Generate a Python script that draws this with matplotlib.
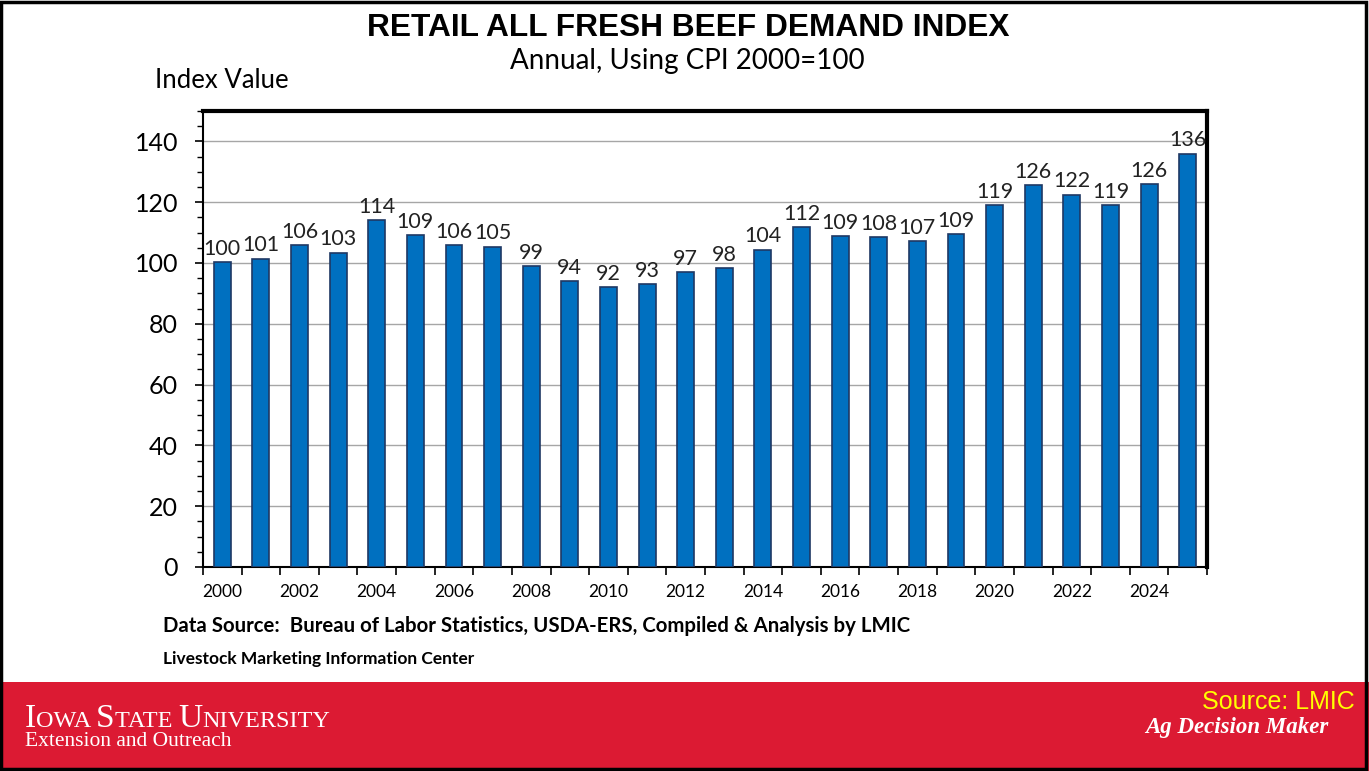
import matplotlib.pyplot as plt
from matplotlib.patches import Rectangle
from matplotlib.ticker import MultipleLocator

# Retail all fresh beef demand index, annual, CPI 2000=100
years = list(range(2000, 2026))
index_values = [100.2, 101.4, 105.8, 103.4, 114.0, 109.1, 105.8, 105.4, 98.9, 94.0,
                92.0, 93.0, 96.9, 98.3, 104.4, 111.7, 108.8, 108.4, 107.1, 109.4,
                119.0, 125.5, 122.4, 119.0, 125.9, 136.0]
tick_years = [y if y % 2 == 0 else '' for y in years]

W, H = 1369, 771
fig = plt.figure(figsize=(W / 100, H / 100), dpi=100)
fig.patch.set_facecolor('white')

def fx(px):
    return px / W

def fy(py):
    return 1 - py / H

# chart area
ax = fig.add_axes([fx(203), fy(567), fx(1207 - 203), (567 - 111) / H])
x = list(range(len(years)))
ax.bar(x, index_values, width=0.44, color='#0070C0', edgecolor='#1F3864', linewidth=1.2, zorder=3)
for xi, v in zip(x, index_values):
    ax.text(xi, v + 1.2, f'{round(v):d}', ha='center', va='bottom', fontsize=15.5,
            family='Lato', color='#222222', zorder=4)

ax.set_xlim(-0.5, len(years) - 0.5)
ax.set_ylim(0, 150)
ax.set_yticks(range(0, 141, 20))
ax.yaxis.set_minor_locator(MultipleLocator(5))
ax.grid(axis='y', color='#A6A6A6', linewidth=1.0, zorder=0)
ax.tick_params(axis='y', which='major', length=6, width=1.2, labelsize=18, pad=12)
ax.tick_params(axis='y', which='minor', length=4, width=1.0)
for lbl in ax.get_yticklabels():
    lbl.set_family('Lato')

# year ticks sit at category boundaries, labels at category centres
ax.set_xticks([i - 0.5 for i in range(len(years) + 1)])
ax.set_xticklabels([])
ax.set_xticks(x, minor=True)
ax.set_xticklabels(tick_years, minor=True, fontsize=12.5, family='Lato')
ax.tick_params(axis='x', which='major', length=6, width=1.2, direction='out')
ax.tick_params(axis='x', which='minor', length=0, pad=12)

ax.spines['left'].set_linewidth(1.5)
ax.spines['bottom'].set_linewidth(1.5)
ax.spines['top'].set_linewidth(3)
ax.spines['right'].set_linewidth(3)

# titles
fig.text(fx(688), fy(28), 'RETAIL ALL FRESH BEEF DEMAND INDEX', ha='center', va='center',
         fontsize=22.8, fontweight='bold', family='Liberation Sans')
fig.text(fx(687), fy(61), 'Annual, Using CPI 2000=100', ha='center', va='center',
         fontsize=20, family='Lato')
fig.text(fx(155), fy(81), 'Index Value', ha='left', va='center', fontsize=18.5, family='Lato')

fig.text(fx(163), fy(626), 'Data Source:  Bureau of Labor Statistics, USDA-ERS, Compiled & Analysis by LMIC',
         ha='left', va='center', fontsize=14.7, fontweight='bold', family='Lato')
fig.text(fx(163), fy(659), 'Livestock Marketing Information Center',
         ha='left', va='center', fontsize=12.5, fontweight='bold', family='Lato')

# footer band
fig.patches.append(Rectangle((0, 0), 1, fy(682), transform=fig.transFigure,
                             facecolor='#DC1A33', edgecolor='none', zorder=0))

# small-caps university name built from pieces
pieces = [('I', 24), ('OWA ', 17.5), ('S', 24), ('TATE ', 17.5), ('U', 24), ('NIVERSITY', 17.5)]
renderer = fig.canvas.get_renderer()
cur_x = fx(25)
for txt, size in pieces:
    t = fig.text(cur_x, fy(727), txt, ha='left', va='baseline', fontsize=size,
                 family='Liberation Serif', color='white')
    bb = t.get_window_extent(renderer=renderer)
    cur_x = bb.x1 / W
fig.text(fx(25), fy(742), 'Extension and Outreach', ha='left', va='center', fontsize=15.5,
         family='Liberation Serif', color='white')
fig.text(fx(1355), fy(702), 'Source: LMIC', ha='right', va='center', fontsize=18,
         family='Liberation Sans', color='#FFFF00')
fig.text(fx(1328), fy(728), 'Ag Decision Maker', ha='right', va='center', fontsize=16.5,
         family='Liberation Serif', style='italic', fontweight='bold', color='white')

# outer border
fig.patches.append(Rectangle((0.001, 0.002), 0.997, 0.996, transform=fig.transFigure,
                             facecolor='none', edgecolor='black', linewidth=2.5, zorder=5))

fig.savefig('out.png', dpi=100)
